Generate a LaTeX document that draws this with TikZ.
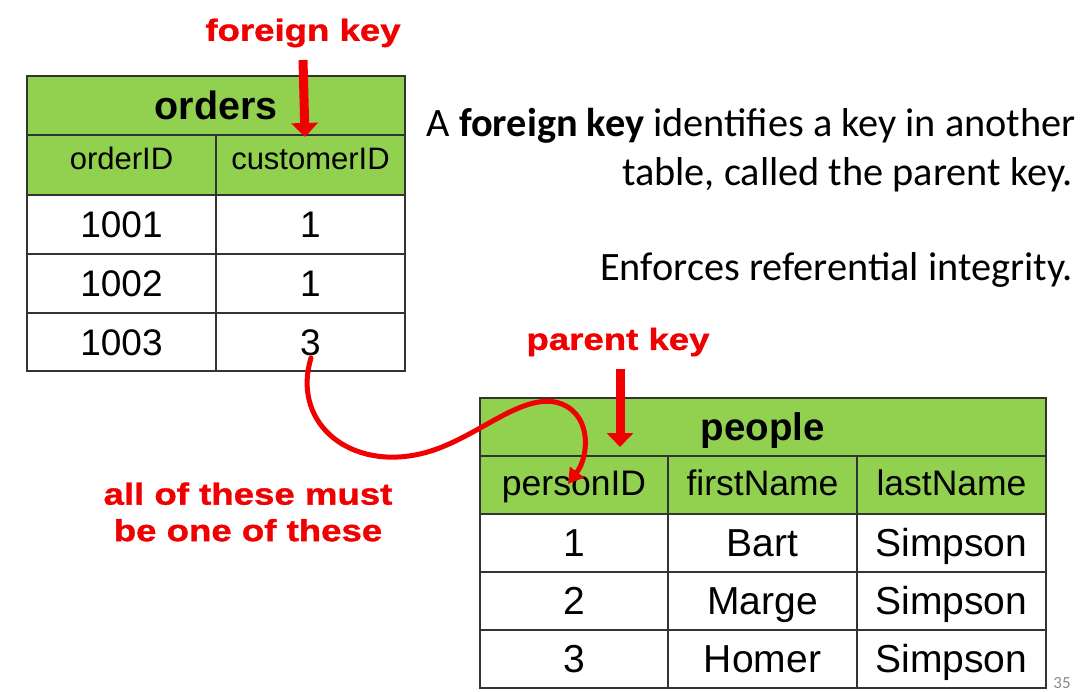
\documentclass[tikz,border=0pt]{standalone}
\usepackage{fontspec}
\setmainfont{Liberation Sans}
\newfontfamily\bodyfont{Carlito}
\newfontfamily\labfont[FakeStretch=1.2,FakeBold=1.2]{Liberation Sans}
\usetikzlibrary{arrows.meta}
\definecolor{tgreen}{HTML}{92D050}
\definecolor{kred}{HTML}{F00000}
\definecolor{linec}{HTML}{333333}
\definecolor{pgnum}{HTML}{8C8C8C}
\newcommand\fsz[1]{\fontsize{#1}{#1}\selectfont}
\begin{document}
\begin{tikzpicture}[x=1pt,y=-1pt,
  cell/.style={draw=linec, line width=1.3pt, inner sep=0pt, anchor=center},
  ocell/.style={cell, minimum width=189pt, minimum height=59pt},
  pcell/.style={cell, minimum width=189pt, minimum height=58pt},
  hdr/.style={fill=tgreen},
  otitle/.style={font=\bfseries\fsz{39.5}, text height=28pt, text depth=0pt},
  ohead/.style={font=\fsz{31}, text height=22pt, text depth=13pt},
  odata/.style={font=\fsz{37}, text height=26.5pt, text depth=0pt},
  ptitle/.style={font=\bfseries\fsz{38.5}, text height=27.6pt, text depth=0pt},
  phead/.style={font=\fsz{35.5}, text height=25.4pt, text depth=5pt},
  pdata/.style={font=\fsz{39}, text height=28pt, text depth=2pt},
  lab/.style={text=kred, inner sep=0pt, font=\labfont\bfseries\fsz{30.5}, align=center},
  bigarrow/.style={draw=kred, line width=9pt, -{Triangle[width=26pt,length=14pt]}},
  curvearrow/.style={draw=kred, line width=5pt, line cap=round, -{Triangle[width=17pt,length=15pt]}},
  body/.style={inner sep=0pt, font=\bodyfont\fsz{40.3}, anchor=base east}
]
\useasboundingbox[fill=white] (0,0) rectangle (1084,692);

% orders table
\node[ocell, hdr, otitle, minimum width=378pt] (ot) at (216,105.5) {orders};
\node[ocell, hdr, ohead, minimum height=60pt] (oh1) at (121.5,165) {orderID};
\node[ocell, hdr, ohead, minimum height=60pt] (oh2) at (310.5,165) {customerID};
\node[ocell, odata] (o11) at (121.5,224.5) {1001};
\node[ocell, odata] (o12) at (310.5,224.5) {1};
\node[ocell, odata] (o21) at (121.5,283.5) {1002};
\node[ocell, odata] (o22) at (310.5,283.5) {1};
\node[ocell, odata, minimum height=58pt] (o31) at (121.5,342) {1003};
\node[ocell, odata, minimum height=58pt] (o32) at (310.5,342) {3};

% people table
\node[pcell, hdr, ptitle, minimum width=566pt] (pt) at (763,427) {people};
\node[pcell, hdr, phead, minimum width=188pt] (ph1) at (574,485) {personID};
\node[pcell, hdr, phead] (ph2) at (762.5,485) {firstName};
\node[pcell, hdr, phead] (ph3) at (951.5,485) {lastName};
\node[pcell, pdata, minimum width=188pt] (p11) at (574,543) {1};
\node[pcell, pdata] (p12) at (762.5,543) {Bart};
\node[pcell, pdata] (p13) at (951.5,543) {Simpson};
\node[pcell, pdata, minimum width=188pt] (p21) at (574,601) {2};
\node[pcell, pdata] (p22) at (762.5,601) {Marge};
\node[pcell, pdata] (p23) at (951.5,601) {Simpson};
\node[pcell, pdata, minimum width=188pt] (p31) at (574,659) {3};
\node[pcell, pdata] (p32) at (762.5,659) {Homer};
\node[pcell, pdata] (p33) at (951.5,659) {Simpson};

% red labels
\node[lab] (fk) at (303,33) {foreign key};
\node[lab] (pk) at (618,342) {parent key};
\node[lab] (note) at (248,512) {all of these must\\[6pt]be one of these};

% arrows
\coordinate (fkend) at (305,137);
\coordinate (pkend) at (620,447);
\draw[bigarrow] (fk.south |- 0,60) -- (fkend);
\draw[bigarrow] (pk.south -| pkend) ++(0,13) -- (pkend);

\coordinate (cstart) at (311,358);
\coordinate (cend) at (568,484);
\draw[curvearrow] (cstart) .. controls (292,420) and (345,468) .. (415,455)
  .. controls (470,445) and (515,395) .. (555,402)
  .. controls (592,410) and (590,455) .. (cend);

% body text
\node[body] (t1) at (1076,137) {A \textbf{foreign key} identifies a key in another};
\node[body] (t2) at (1073,186) {table, called the parent key.};
\node[body] (t3) at (1073,281) {Enforces referential integrity.};

\node[inner sep=0pt, text=pgnum, font=\bodyfont\fsz{17}] (pg) at (1062,683) {35};
\end{tikzpicture}
\end{document}
